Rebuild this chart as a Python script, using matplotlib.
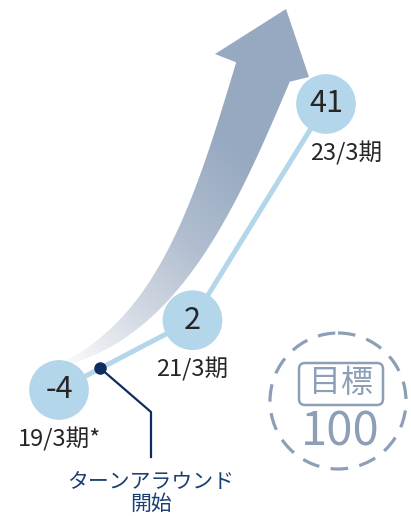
import numpy as np
import matplotlib
matplotlib.use("Agg")
import matplotlib.pyplot as plt
from matplotlib.patches import Polygon, Circle, FancyBboxPatch
from matplotlib.colors import LinearSegmentedColormap

plt.rcParams['font.family'] = ['Noto Sans CJK JP', 'DejaVu Sans']

# ---- data ----
periods = ['19/3期*', '21/3期', '23/3期']
values = [-4, 2, 41]
target_value = 100
target_label = '目標'
annotation_text = 'ターンアラウンド\n開始'

# ---- styles / layout ----
W, H = 411, 516
C_CIRCLE = '#B4D6EB'
C_LINE = '#B4D6EB'
C_TEXT = '#262626'
C_NAVY_TXT = '#1A3F75'
C_NAVY = '#0E2D5E'
C_TARGET = '#8C9FB7'

fig = plt.figure(figsize=(W / 100, H / 100), dpi=100)

# background (pixel coordinate) axes for decorative arrow and target badge
axbg = fig.add_axes([0, 0, 1, 1])
axbg.set_xlim(0, W)
axbg.set_ylim(H, 0)
axbg.axis('off')

# ---- big gradient arrow ----
P = np.array([[55, 367], [168, 330], [215, 205], [263, 72]], float)
t = np.linspace(0, 1, 300)
c = (((1 - t) ** 3)[:, None] * P[0] + (3 * (1 - t) ** 2 * t)[:, None] * P[1]
     + (3 * (1 - t) * t ** 2)[:, None] * P[2] + (t ** 3)[:, None] * P[3])
d = (3 * ((1 - t) ** 2)[:, None] * (P[1] - P[0]) + (6 * (1 - t) * t)[:, None] * (P[2] - P[1])
     + (3 * t ** 2)[:, None] * (P[3] - P[2]))
d /= np.linalg.norm(d, axis=1)[:, None]
n = np.stack([-d[:, 1], d[:, 0]], axis=1)
hw = 28.5 * t ** 0.8
left = c - hw[:, None] * n
right = c + hw[:, None] * n
head = np.array([[215, 54], [286, 9], [309, 77]], float)
poly = np.vstack([left, head, right[::-1]])
patch = Polygon(poly, closed=True, facecolor='none', edgecolor='none')
axbg.add_patch(patch)

X, Y = np.meshgrid(np.arange(W) + 0.5, np.arange(H) + 0.5)
g0 = np.array([55, 372.0])
g1 = np.array([245, 160.0])
gv = g1 - g0
val = ((X - g0[0]) * gv[0] + (Y - g0[1]) * gv[1]) / (gv @ gv)
val = np.clip(val, 0, 1)
cmap = LinearSegmentedColormap.from_list('arr', ['#FFFFFF', '#D5DBE5', '#B0BDCF', '#97A9C1'])
im = axbg.imshow(val, extent=(0, W, H, 0), origin='upper', cmap=cmap, vmin=0, vmax=1,
                 interpolation='bilinear', zorder=1)
im.set_clip_path(patch)

# ---- target badge ----
axbg.add_patch(Circle((338, 401), 68, fill=False, edgecolor=C_TARGET, lw=2.3,
                      linestyle=(0, (5.5, 3.6)), zorder=2))
axbg.add_patch(FancyBboxPatch((299, 363), 84, 42, boxstyle='round,pad=0,rounding_size=6',
                              fill=False, edgecolor=C_TARGET, lw=1.8, zorder=2))
axbg.text(341, 383, target_label, ha='center', va='center', fontsize=23, color=C_TARGET, zorder=3)
axbg.text(340, 432, str(target_value), ha='center', va='center', fontsize=34, color=C_TARGET, zorder=3)

# ---- data axes (index vs value, sqrt-like scale) ----
x0_px, dx_px = 59.0, 133.5
A, B = 485.3, 55.04
fwd = lambda v: np.sign(np.asarray(v) + 7) * np.sqrt(np.abs(np.asarray(v) + 7))
inv = lambda u: np.sign(np.asarray(u)) * np.asarray(u) ** 2 - 7

ax = fig.add_axes([0, 0, 1, 1], facecolor='none')
ax.set_yscale('function', functions=(fwd, inv))
ax.set_xlim(-x0_px / dx_px, (W - x0_px) / dx_px)
ax.set_ylim(inv((A - H) / B), inv(A / B))
ax.axis('off')

xs = np.arange(len(values))
ax.plot(xs, values, color=C_LINE, lw=3.6, zorder=2, solid_capstyle='round')
ax.scatter(xs, values, s=1850, color=C_CIRCLE, edgecolors='none', zorder=3)
label_dx = [0, 0, 20]
for i, (v, p) in enumerate(zip(values, periods)):
    ax.text(i, v, str(v), ha='center', va='center', fontsize=22, color=C_TEXT, zorder=4)
    ax.annotate(p, (i, v), xytext=(label_dx[i], -49), textcoords='offset pixels',
                ha='center', va='center', fontsize=17, color=C_TEXT, zorder=4)

# ---- foreground annotation ----
axfg = fig.add_axes([0, 0, 1, 1], facecolor='none')
axfg.set_xlim(0, W)
axfg.set_ylim(H, 0)
axfg.axis('off')
p0 = ax.transData.transform((0, values[0]))
p1 = ax.transData.transform((1, values[1]))
pd = p0 + 0.31 * (p1 - p0)
dot = (pd[0], H - pd[1])
axfg.plot([dot[0], 151, 151], [dot[1], 412, 457], color=C_NAVY, lw=1.6, zorder=5)
axfg.plot([dot[0]], [dot[1]], 'o', color=C_NAVY, ms=8, zorder=6)
axfg.text(151, 493, annotation_text, ha='center', va='center', fontsize=15,
          color=C_NAVY_TXT, linespacing=1.0, zorder=6)

fig.savefig('out.png', dpi=100)
